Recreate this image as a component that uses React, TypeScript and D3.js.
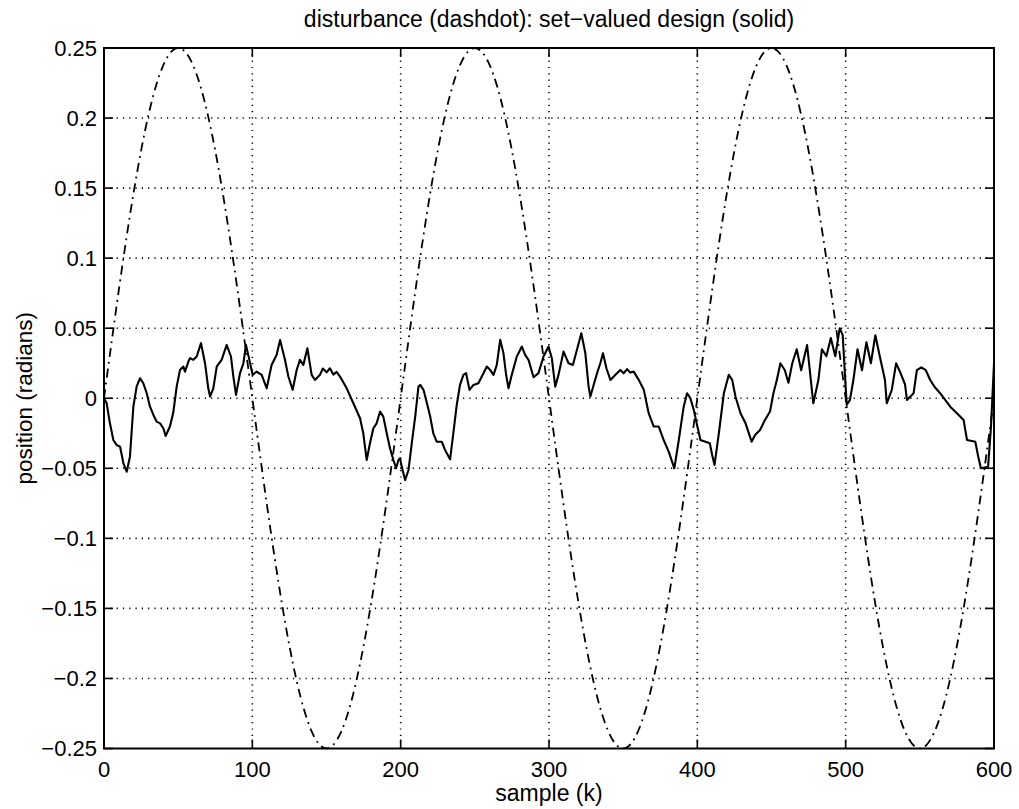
import React from "react";
import * as d3 from "d3";

const titleText = "disturbance (dashdot): set\u2212valued design (solid)";
const xLabel = "sample (k)";
const yLabel = "position (radians)";
const xTicks = [0, 100, 200, 300, 400, 500, 600];
const yTicks = [-0.25, -0.2, -0.15, -0.1, -0.05, 0, 0.05, 0.1, 0.15, 0.2, 0.25];
const yTickLabels = ["\u22120.25", "\u22120.2", "\u22120.15", "\u22120.1", "\u22120.05", "0", "0.05", "0.1", "0.15", "0.2", "0.25"];

// disturbance (dashdot), read every 10 samples
const disturbanceK = [
  0, 10, 20, 30, 40, 50, 60, 70, 80, 90, 100, 110, 120, 130, 140, 150, 160, 170, 180, 190,
  200, 210, 220, 230, 240, 250, 260, 270, 280, 290, 300, 310, 320, 330, 340, 350, 360, 370, 380, 390,
  400, 410, 420, 430, 440, 450, 460, 470, 480, 490, 500, 510, 520, 530, 540, 550, 560, 570, 580, 590, 600,
];
const disturbanceVals = [
  0, 0.0773, 0.1469, 0.2023, 0.2378, 0.25, 0.2378, 0.2023, 0.1469, 0.0773, 0, -0.0773, -0.1469, -0.2023, -0.2378, -0.25, -0.2378, -0.2023, -0.1469, -0.0773,
  0, 0.0773, 0.1469, 0.2023, 0.2378, 0.25, 0.2378, 0.2023, 0.1469, 0.0773, 0, -0.0773, -0.1469, -0.2023, -0.2378, -0.25, -0.2378, -0.2023, -0.1469, -0.0773,
  0, 0.0773, 0.1469, 0.2023, 0.2378, 0.25, 0.2378, 0.2023, 0.1469, 0.0773, 0, -0.0773, -0.1469, -0.2023, -0.2378, -0.25, -0.2378, -0.2023, -0.1469, -0.0773, 0,
];

// set-valued design (solid)
const solidK = [
  0, 1.8, 4.0, 6.3, 8.5, 10.8, 13.1, 15.3, 17.5, 19.8, 22.0, 24.3, 26.5, 28.8, 31.0, 33.3, 35.5, 37.8, 40.0, 41.6,
  44.5, 46.7, 49.0, 51.2, 53.5, 54.6, 56.9, 58.0, 60.2, 62.5, 65.4, 68.1, 70.3, 71.5, 73.7, 76.0, 79.3, 82.7, 85.6, 87.2,
  89.0, 91.7, 94.0, 95.7, 98.0, 100.2, 102.9, 106.3, 109.7, 113.0, 116.4, 118.7, 122.0, 124.3, 127.2, 129.9, 132.1, 134.4, 137.1, 140.0,
  142.2, 145.6, 147.5, 150.1, 152.3, 154.6, 156.8, 159.1, 163.6, 168.1, 172.6, 174.8, 177.1, 179.3, 181.6, 183.8, 186.1, 188.3, 190.6, 192.8,
  195.1, 196.9, 198.5, 199.6, 200.7, 203.0, 205.3, 207.5, 209.8, 212.0, 213.2, 215.4, 217.7, 219.9, 222.0, 224.3, 227.7, 229.9, 233.3, 235.5,
  237.8, 240.0, 242.3, 244.1, 246.4, 249.1, 252.4, 254.7, 258.1, 260.3, 262.6, 264.8, 267.1, 269.3, 271.1, 272.7, 274.9, 278.3, 281.7, 283.9,
  286.2, 289.6, 292.9, 296.3, 299.7, 301.9, 304.2, 306.4, 309.8, 313.2, 316.1, 318.8, 321.8, 324.5, 326.7, 327.9, 330.1, 332.4, 334.6, 336.4,
  338.7, 341.4, 344.8, 348.1, 350.3, 352.6, 354.8, 357.1, 360.5, 363.9, 367.2, 370.6, 374.0, 377.3, 380.7, 384.5, 387.5, 390.8, 393.1, 395.3,
  397.6, 399.8, 402.1, 405.5, 408.4, 410.0, 411.6, 414.5, 417.9, 421.2, 423.5, 425.7, 429.1, 432.5, 436.6, 438.9, 442.3, 445.6, 449.0, 451.3,
  453.6, 456, 459, 461.4, 464, 467, 470, 474, 478.2, 481.6, 484, 487, 490, 493, 496, 498, 500.7, 502.9, 505.2, 508,
  511, 514, 517, 520, 523, 526.5, 527.7, 531.1, 534, 537, 540, 541.3, 545.8, 548, 551, 554, 557, 560, 563.7, 570.5,
  575.0, 579.5, 581.8, 587.4, 589.6, 591.2, 596, 598, 600,
];
const solidVals = [
  0, -0.0036, -0.0179, -0.0298, -0.0334, -0.0345, -0.0464, -0.0524, -0.0417, -0.006, 0.0083, 0.0143, 0.0107, 0.0036, -0.006, -0.0119, -0.0167, -0.0179, -0.0214, -0.0269,
  -0.02, -0.0102, 0.0083, 0.0202, 0.0226, 0.019, 0.0262, 0.0286, 0.0274, 0.0298, 0.0393, 0.025, 0.0071, 0.0012, 0.0071, 0.0226, 0.0274, 0.0381, 0.0298, 0.0155,
  0.0024, 0.0179, 0.025, 0.0381, 0.0274, 0.0167, 0.019, 0.0167, 0.0071, 0.0238, 0.031, 0.0416, 0.0274, 0.0155, 0.006, 0.0202, 0.0274, 0.0238, 0.0357, 0.0167,
  0.0131, 0.0167, 0.0212, 0.0185, 0.0214, 0.0169, 0.0188, 0.0155, 0.0071, -0.0036, -0.0143, -0.025, -0.0441, -0.0321, -0.0214, -0.0179, -0.0095, -0.0131, -0.025, -0.0357,
  -0.0441, -0.05, -0.0441, -0.0429, -0.0488, -0.0584, -0.0512, -0.0321, -0.0131, 0.0083, 0.0095, 0.006, -0.0036, -0.0131, -0.025, -0.031, -0.031, -0.0369, -0.0436, -0.025,
  -0.0048, 0.0095, 0.0167, 0.0179, 0.006, 0.0095, 0.0107, 0.0155, 0.0226, 0.0202, 0.0167, 0.0238, 0.0417, 0.0321, 0.0167, 0.0071, 0.0167, 0.0298, 0.0369, 0.031,
  0.0274, 0.015, 0.0179, 0.0298, 0.0369, 0.0286, 0.0083, 0.0167, 0.0333, 0.025, 0.0238, 0.0345, 0.0464, 0.0321, 0.0083, 0.0012, 0.0095, 0.0179, 0.025, 0.0321,
  0.0214, 0.0131, 0.0167, 0.0202, 0.0178, 0.0208, 0.0183, 0.019, 0.0131, 0.006, -0.0107, -0.0202, -0.0202, -0.0298, -0.0381, -0.05, -0.0298, -0.006, 0.0036, 0.0,
  -0.0083, -0.019, -0.0298, -0.031, -0.0321, -0.0405, -0.0476, -0.025, 0.0036, 0.0167, 0.0131, 0.0012, -0.0107, -0.0179, -0.031, -0.0262, -0.0226, -0.0155, -0.0095, 0.0036,
  0.013, 0.025, 0.02, 0.011, 0.025, 0.035, 0.02, 0.038, -0.0036, 0.013, 0.035, 0.03, 0.043, 0.03, 0.05, 0.045, -0.0048, -0.0012, 0.013, 0.035,
  0.02, 0.04, 0.025, 0.045, 0.03, 0.013, -0.0036, 0.006, 0.025, 0.018, 0.01, -0.0012, 0.0036, 0.02, 0.022, 0.02, 0.013, 0.008, 0.0036, -0.006,
  -0.0107, -0.0155, -0.0298, -0.031, -0.0429, -0.05, -0.049, -0.02, 0.025,
];

const W = 1019;
const H = 809;
const left = 104;
const right = 994;
const top = 48;
const bottom = 748.5;
const FONT = "'Liberation Sans', Arial, Helvetica, sans-serif";

export default function App() {
  const x = d3.scaleLinear().domain([0, 600]).range([left, right]);
  const y = d3.scaleLinear().domain([-0.25, 0.25]).range([bottom, top]);

  const distPts: [number, number][] = disturbanceK.map((k, i) => [k, disturbanceVals[i]]);
  const solidPts: [number, number][] = solidK.map((k, i) => [k, solidVals[i]]);
  const distPath =
    d3
      .line<[number, number]>()
      .x((d) => x(d[0]))
      .y((d) => y(d[1]))
      .curve(d3.curveNatural)(distPts) || "";
  const solidPath =
    d3
      .line<[number, number]>()
      .x((d) => x(d[0]))
      .y((d) => y(d[1]))(solidPts) || "";

  const tickLen = 9;

  return (
    <svg
      width={W}
      height={H}
      style={{ position: "absolute", left: 0, top: 0, background: "#fff" }}
      fontFamily={FONT}
    >
      <rect x={0} y={0} width={W} height={H} fill="#fff" />
      <defs>
        <clipPath id="plotclip">
          <rect x={left} y={top - 1} width={right - left} height={bottom - top + 2} />
        </clipPath>
      </defs>

      {/* grid */}
      <g stroke="#000" strokeWidth={1.6} strokeDasharray="1.2,5.1" fill="none">
        {xTicks
          .filter((t) => t > 0 && t < 600)
          .map((t) => (
            <line key={"gx" + t} x1={x(t)} x2={x(t)} y1={top} y2={bottom} />
          ))}
        {yTicks
          .filter((t) => t > -0.25 && t < 0.25)
          .map((t) => (
            <line key={"gy" + t} x1={left} x2={right} y1={y(t)} y2={y(t)} />
          ))}
      </g>

      {/* data */}
      <g clipPath="url(#plotclip)" fill="none" stroke="#000">
        <path d={distPath} strokeWidth={1.8} strokeDasharray="9,5,1.8,5" />
        <path d={solidPath} strokeWidth={2.1} strokeLinejoin="round" />
      </g>

      {/* ticks */}
      <g stroke="#000" strokeWidth={1.6}>
        {xTicks.map((t) => (
          <g key={"tx" + t}>
            <line x1={x(t)} x2={x(t)} y1={bottom} y2={bottom - tickLen} />
            <line x1={x(t)} x2={x(t)} y1={top} y2={top + tickLen} />
          </g>
        ))}
        {yTicks.map((t) => (
          <g key={"ty" + t}>
            <line x1={left} x2={left + tickLen} y1={y(t)} y2={y(t)} />
            <line x1={right} x2={right - tickLen} y1={y(t)} y2={y(t)} />
          </g>
        ))}
      </g>

      {/* box */}
      <rect x={left} y={top} width={right - left} height={bottom - top} fill="none" stroke="#000" strokeWidth={2} />

      {/* tick labels */}
      <g fontSize={22} fill="#000">
        {xTicks.map((t) => (
          <text key={"lx" + t} x={x(t)} y={777} textAnchor="middle">
            {String(t)}
          </text>
        ))}
        {yTicks.map((t, i) => (
          <text key={"ly" + t} x={97} y={y(t)} dy="0.36em" textAnchor="end">
            {yTickLabels[i]}
          </text>
        ))}
      </g>

      {/* labels */}
      <text x={(left + right) / 2} y={801} textAnchor="middle" fontSize={23}>
        {xLabel}
      </text>
      <text transform={`translate(32,${(top + bottom) / 2}) rotate(-90)`} textAnchor="middle" fontSize={22.5}>
        {yLabel}
      </text>
      <text x={(left + right) / 2} y={27} textAnchor="middle" fontSize={23}>
        {titleText}
      </text>
    </svg>
  );
}
